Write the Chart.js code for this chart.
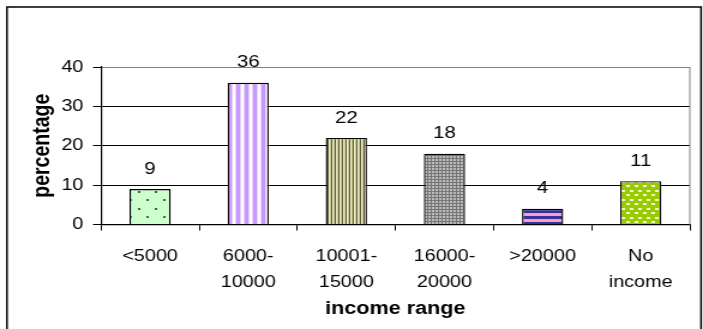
<!DOCTYPE html>
<html>
<head>
<meta charset="utf-8">
<script src="https://cdn.jsdelivr.net/npm/chart.js@4.4.1/dist/chart.umd.min.js"></script>
<style>
  html, body { margin: 0; padding: 0; background: #fff; overflow: hidden; }
  /* the drawing is made on a narrower canvas and widened to the page width */
  #wrap { width: 586px; height: 329px; transform: scale(1.19966, 1); transform-origin: 0 0; }
  canvas { display: block; }
</style>
</head>
<body>
<div id="wrap"><canvas id="c" width="586" height="329" style="width:586px;height:329px"></canvas></div>
<script>
// income ranges (multi-line category labels)
const incomeRanges = [['<5000'], ['6000-', '10000'], ['10001-', '15000'], ['16000-', '20000'], ['>20000'], ['No', 'income']];
// share of respondents in each range, %
const percentages = [9, 36, 22, 18, 4, 11];
// value axis ticks
const yTicks = [0, 10, 20, 30, 40];

const FONT = "'Liberation Sans', Arial, sans-serif";
const canvas = document.getElementById('c');
const ctx = canvas.getContext('2d');

function makePattern(w, h, paint) {
  const t = document.createElement('canvas');
  t.width = w; t.height = h;
  paint(t.getContext('2d'));
  return ctx.createPattern(t, 'repeat');
}

// one hatched fill per bar
const barFills = [
  // light green with sparse dark dots
  makePattern(14, 17, g => {
    g.fillStyle = '#ccffcc'; g.fillRect(0, 0, 14, 17);
    g.fillStyle = '#555555';
    g.fillRect(3, 4, 2, 2); g.fillRect(10, 12, 2, 2);
  }),
  // white / lavender vertical stripes
  makePattern(7, 1, g => {
    g.fillStyle = '#ffffff'; g.fillRect(0, 0, 7, 1);
    g.fillStyle = '#e6d2ff'; g.fillRect(0, 0, 1, 1); g.fillRect(4, 0, 1, 1);
    g.fillStyle = '#c896ff'; g.fillRect(1, 0, 3, 1);
  }),
  // fine olive / beige vertical stripes
  makePattern(3, 1, g => {
    g.fillStyle = '#5c5c3c'; g.fillRect(0, 0, 1, 1);
    g.fillStyle = '#f0f0c0'; g.fillRect(1, 0, 1, 1);
    g.fillStyle = '#c4c494'; g.fillRect(2, 0, 1, 1);
  }),
  // gray dotted grid
  makePattern(3, 3, g => {
    g.fillStyle = '#757575'; g.fillRect(0, 0, 3, 3);
    g.fillStyle = '#bcbcbc'; g.fillRect(0, 0, 2, 2);
  }),
  // navy / pink horizontal stripes
  makePattern(1, 6, g => {
    g.fillStyle = '#333399'; g.fillRect(0, 0, 1, 3);
    g.fillStyle = '#ff99cc'; g.fillRect(0, 3, 1, 3);
  }),
  // yellow-green with small white dashes
  makePattern(7, 9, g => {
    g.fillStyle = '#99cc00'; g.fillRect(0, 0, 7, 9);
    g.fillStyle = '#f2fadc';
    g.fillRect(0, 1, 3, 2); g.fillRect(4, 5, 3, 2);
  })
];

// outer frame of the figure and the gray right edge of the plot area
const framePlugin = {
  id: 'frame',
  beforeDraw(chart) {
    const c = chart.ctx;
    c.save();
    c.strokeStyle = '#000';
    c.lineWidth = 1.5;
    c.strokeRect(5.8, 7, 578.6, 340);
    c.restore();
  },
  beforeDatasetsDraw(chart) {
    const { ctx: c, chartArea: a } = chart;
    c.save();
    c.strokeStyle = '#808080';
    c.lineWidth = 1;
    c.beginPath();
    c.moveTo(a.right, a.top);
    c.lineTo(a.right, a.bottom);
    c.stroke();
    c.restore();
  }
};

// value written above each bar
const valueLabels = {
  id: 'valueLabels',
  afterDatasetsDraw(chart) {
    const c = chart.ctx;
    const meta = chart.getDatasetMeta(0);
    c.save();
    c.fillStyle = '#000';
    c.font = '17px ' + FONT;
    c.textAlign = 'center';
    c.textBaseline = 'middle';
    meta.data.forEach((bar, i) => {
      c.fillText(String(percentages[i]), bar.x, bar.y - 20);
    });
    c.restore();
  }
};

Chart.defaults.font.family = FONT;
Chart.defaults.color = '#000';

new Chart(ctx, {
  type: 'bar',
  data: {
    labels: incomeRanges,
    datasets: [{
      data: percentages,
      backgroundColor: barFills,
      borderColor: '#000',
      borderWidth: 1.4,
      barPercentage: 0.42,
      categoryPercentage: 1
    }]
  },
  options: {
    responsive: false,
    animation: false,
    events: [],
    layout: { padding: { top: 67, right: 11, bottom: 0, left: 0 } },
    plugins: { legend: { display: false }, tooltip: { enabled: false } },
    scales: {
      x: {
        grid: { offset: true, drawOnChartArea: false, drawTicks: true, tickLength: 6, tickColor: '#000', lineWidth: 1 },
        border: { color: '#000', width: 1.2 },
        ticks: { color: '#000', font: { size: 16.5, lineHeight: 1.6 }, padding: 12.5, maxRotation: 0, autoSkip: false },
        title: { display: true, text: 'income range', color: '#000', font: { size: 18, weight: 'bold' }, padding: { top: 0, bottom: 9 } },
        afterFit(s) { s.height = 104.5; }
      },
      y: {
        min: 0,
        max: 40,
        afterBuildTicks(s) { s.ticks = yTicks.map(v => ({ value: v })); },
        ticks: { color: '#000', font: { size: 16.5 }, padding: 8 },
        grid: {
          color: c => (c.tick && c.tick.value === 40 ? '#808080' : '#000'),
          tickColor: '#000',
          tickLength: 6.7,
          lineWidth: 1
        },
        border: { color: '#000', width: 1.2 },
        title: { display: true, text: 'percentage', color: '#000', font: { size: 19.5, weight: 'bold' }, padding: { top: 24, bottom: 0 } },
        afterFit(s) { s.width = 84.2; }
      }
    }
  },
  plugins: [framePlugin, valueLabels]
});
</script>
</body>
</html>
